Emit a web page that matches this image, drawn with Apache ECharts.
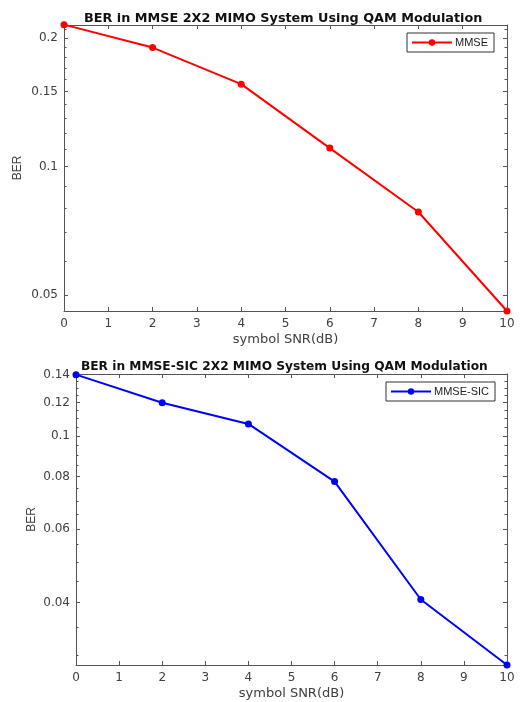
<!DOCTYPE html>
<html>
<head>
<meta charset="utf-8">
<script src="https://cdn.jsdelivr.net/npm/echarts@6/dist/echarts.min.js"></script>
<style>html,body{margin:0;padding:0;background:#fff}#c{width:522px;height:702px}</style>
</head>
<body>
<div id="c"></div>
<script>
const snr = [0, 2, 4, 6, 8, 10];
const berMMSE = [0.215, 0.190, 0.156, 0.1105, 0.0783, 0.0459];
const berSIC = [0.140, 0.120, 0.1068, 0.0778, 0.0407, 0.0284];
const xTicks = [0, 1, 2, 3, 4, 5, 6, 7, 8, 9, 10];
const yTicksTop = [0.05, 0.1, 0.15, 0.2];
const yMinorTop = [0.06, 0.07, 0.08, 0.09, 0.11, 0.12, 0.13, 0.14, 0.16, 0.17, 0.18, 0.19, 0.21];
const yTicksBot = [0.04, 0.06, 0.08, 0.1, 0.12, 0.14];
const yMinorBot = [0.03, 0.035, 0.045, 0.05, 0.055, 0.065, 0.07, 0.075, 0.085, 0.09, 0.095, 0.105, 0.11, 0.115, 0.125, 0.13, 0.135];
const yRangeTop = [0.0459, 0.2146];
const yRangeBot = [0.0284, 0.1405];

const L = v => Math.log10(v);
const fmt = v => String(parseFloat(Math.pow(10, v).toPrecision(6)));
const txt = '#404040', axc = '#555555';
const font = 'DejaVu Sans, Arial, sans-serif';
const afont = 'Liberation Sans, Arial, sans-serif';

function xAxes(gi) {
  const base = {
    type: 'value', gridIndex: gi, min: 0, max: 10, interval: 1,
    splitLine: {show: false},
    axisLine: {show: true, onZero: false, lineStyle: {color: axc, width: 1}},
    axisTick: {show: true, inside: true, length: 4, lineStyle: {color: axc}}
  };
  return [
    Object.assign({}, base, {
      position: 'bottom',
      name: 'symbol SNR(dB)', nameLocation: 'middle', nameGap: 22,
      nameTextStyle: {color: txt, fontSize: 13, fontFamily: font},
      axisLabel: {color: txt, fontSize: 12, fontFamily: font, margin: 7}
    }),
    Object.assign({}, base, {position: 'top', axisLabel: {show: false}})
  ];
}
function yAxes(gi, range, major, minor, nameGap) {
  const base = {
    type: 'value', gridIndex: gi, min: L(range[0]), max: L(range[1]),
    splitLine: {show: false}, axisLabel: {show: false}
  };
  const majT = {show: true, inside: true, length: 4, lineStyle: {color: axc}, customValues: major.map(L)};
  const minT = {show: true, inside: true, length: 2.5, lineStyle: {color: axc}, customValues: minor.map(L)};
  const line = {show: true, onZero: false, lineStyle: {color: axc}};
  const noLine = {show: false, onZero: false};
  return [
    Object.assign({}, base, {
      position: 'left',
      name: 'BER', nameLocation: 'middle', nameGap: nameGap, nameMoveOverlap: false,
      nameTextStyle: {color: txt, fontSize: 12, fontFamily: afont},
      axisLine: line,
      axisTick: majT,
      axisLabel: {show: true, color: txt, fontSize: 12, fontFamily: font, margin: 6,
        customValues: major.map(L), formatter: fmt}
    }),
    Object.assign({}, base, {position: 'left', axisLine: noLine, axisTick: minT}),
    Object.assign({}, base, {position: 'right', axisLine: line, axisTick: majT}),
    Object.assign({}, base, {position: 'right', axisLine: noLine, axisTick: minT})
  ];
}
function legend(name, left, top) {
  return {
    data: [name], left: left, top: top, orient: 'vertical',
    itemWidth: 40, itemHeight: 8, itemGap: 0,
    padding: [4, 6, 4, 4],
    borderColor: '#333', borderWidth: 1, borderRadius: 0, backgroundColor: '#fff',
    textStyle: {color: '#222', fontSize: 11, fontFamily: afont, padding: [0, 0, 0, -2]}
  };
}
function series(name, xs, ys, color, xi, yi) {
  return {
    name: name, type: 'line', xAxisIndex: xi, yAxisIndex: yi,
    data: xs.map((x, i) => [x, L(ys[i])]),
    symbol: 'circle', symbolSize: 7, clip: false,
    lineStyle: {color: color, width: 2}, itemStyle: {color: color},
    emphasis: {disabled: true}, animation: false
  };
}

const chart = echarts.init(document.getElementById('c'), null, {renderer: 'canvas'});
chart.setOption({
  animation: false,
  backgroundColor: '#fff',
  title: [
    {text: 'BER in MMSE 2X2 MIMO System Using QAM Modulation', left: 79, top: 7,
      textStyle: {fontSize: 12.8, fontWeight: 'bold', color: '#111', fontFamily: font}},
    {text: 'BER in MMSE-SIC 2X2 MIMO System Using QAM Modulation', left: 76, top: 356,
      textStyle: {fontSize: 12.2, fontWeight: 'bold', color: '#111', fontFamily: font}}
  ],
  legend: [legend('MMSE', 407, 33), legend('MMSE-SIC', 386, 382)],
  grid: [
    {left: 64, right: 15, top: 25, height: 286, outerBoundsMode: 'none', containLabel: false},
    {left: 76, right: 15, top: 374, height: 291, outerBoundsMode: 'none', containLabel: false}
  ],
  xAxis: xAxes(0).concat(xAxes(1)),
  yAxis: yAxes(0, yRangeTop, yTicksTop, yMinorTop, 40).concat(yAxes(1, yRangeBot, yTicksBot, yMinorBot, 38)),
  series: [
    series('MMSE', snr, berMMSE, '#ff0000', 0, 0),
    series('MMSE-SIC', snr, berSIC, '#0000ff', 2, 4)
  ]
});
</script>
</body>
</html>
